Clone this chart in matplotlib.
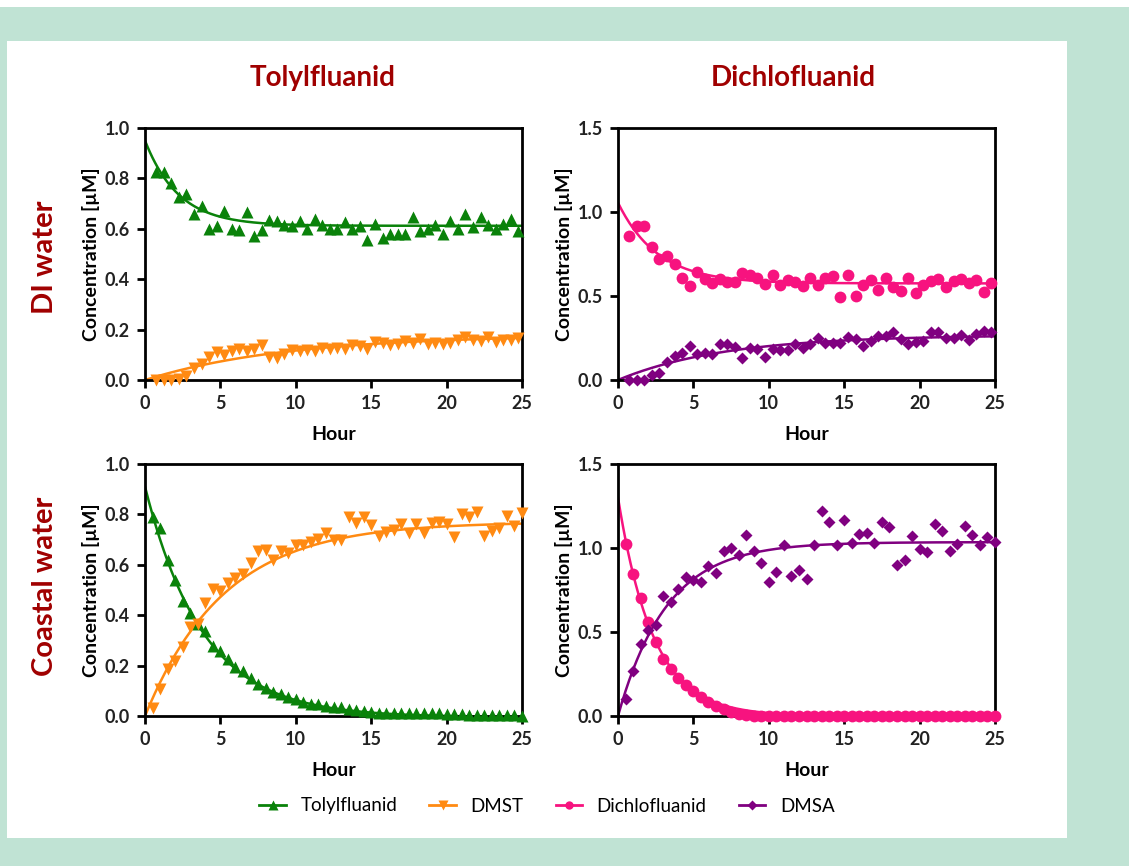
import numpy as np
import matplotlib
import matplotlib.pyplot as plt
from matplotlib.lines import Line2D
from matplotlib.patches import Rectangle

matplotlib.use('Agg')
plt.rcParams['font.family'] = ['Lato', 'DejaVu Sans']

# sampling times (hours)
hours_di = [0.75, 1.25, 1.75, 2.25, 2.75, 3.25, 3.75, 4.25, 4.75, 5.25,
            5.75, 6.25, 6.75, 7.25, 7.75, 8.25, 8.75, 9.25, 9.75, 10.25,
            10.75, 11.25, 11.75, 12.25, 12.75, 13.25, 13.75, 14.25, 14.75, 15.25,
            15.75, 16.25, 16.75, 17.25, 17.75, 18.25, 18.75, 19.25, 19.75, 20.25,
            20.75, 21.25, 21.75, 22.25, 22.75, 23.25, 23.75, 24.25, 24.75]
hours_coast = [0.5, 1.0, 1.5, 2.0, 2.5, 3.0, 3.5, 4.0, 4.5, 5.0,
               5.5, 6.0, 6.5, 7.0, 7.5, 8.0, 8.5, 9.0, 9.5, 10.0,
               10.5, 11.0, 11.5, 12.0, 12.5, 13.0, 13.5, 14.0, 14.5, 15.0,
               15.5, 16.0, 16.5, 17.0, 17.5, 18.0, 18.5, 19.0, 19.5, 20.0,
               20.5, 21.0, 21.5, 22.0, 22.5, 23.0, 23.5, 24.0, 24.5, 25.0]

# DI water
tolyl_di = [0.825, 0.825, 0.78, 0.726, 0.74, 0.66, 0.69, 0.60, 0.61, 0.67,
            0.60, 0.595, 0.665, 0.57, 0.595, 0.635, 0.63, 0.617, 0.61, 0.63,
            0.60, 0.64, 0.615, 0.60, 0.60, 0.628, 0.60, 0.61, 0.555, 0.62,
            0.565, 0.578, 0.578, 0.578, 0.647, 0.59, 0.60, 0.617, 0.58, 0.63,
            0.60, 0.657, 0.607, 0.647, 0.615, 0.60, 0.62, 0.64, 0.59]
dmst_di = [0.0, 0.0, 0.0, 0.005, 0.015, 0.046, 0.064, 0.09, 0.112, 0.099,
           0.114, 0.124, 0.117, 0.124, 0.138, 0.09, 0.088, 0.104, 0.121, 0.114,
           0.121, 0.117, 0.128, 0.125, 0.128, 0.125, 0.138, 0.134, 0.125, 0.151,
           0.147, 0.138, 0.143, 0.154, 0.147, 0.164, 0.143, 0.147, 0.143, 0.147,
           0.16, 0.17, 0.16, 0.154, 0.17, 0.151, 0.157, 0.16, 0.167]
dichlo_di = [0.855, 0.914, 0.914, 0.79, 0.72, 0.74, 0.69, 0.607, 0.562, 0.641,
             0.60, 0.576, 0.60, 0.582, 0.586, 0.635, 0.627, 0.607, 0.572, 0.627,
             0.568, 0.596, 0.582, 0.558, 0.607, 0.568, 0.607, 0.62, 0.492, 0.627,
             0.502, 0.568, 0.596, 0.536, 0.607, 0.556, 0.532, 0.607, 0.516, 0.568,
             0.592, 0.60, 0.552, 0.592, 0.60, 0.576, 0.596, 0.522, 0.576]
dmsa_di = [0.0, 0.0, 0.0, 0.03, 0.044, 0.11, 0.143, 0.163, 0.203, 0.157,
           0.163, 0.157, 0.213, 0.213, 0.197, 0.13, 0.193, 0.183, 0.137, 0.183,
           0.177, 0.177, 0.213, 0.193, 0.213, 0.249, 0.223, 0.223, 0.223, 0.257,
           0.243, 0.203, 0.233, 0.263, 0.263, 0.283, 0.243, 0.217, 0.229, 0.233,
           0.283, 0.283, 0.249, 0.249, 0.269, 0.237, 0.273, 0.289, 0.283]

# Coastal water
tolyl_coast = [0.788, 0.748, 0.62, 0.54, 0.457, 0.41, 0.364, 0.338, 0.278, 0.258,
               0.225, 0.196, 0.179, 0.152, 0.126, 0.113, 0.095, 0.086, 0.077, 0.066,
               0.056, 0.046, 0.046, 0.040, 0.037, 0.037, 0.029, 0.024, 0.020, 0.016,
               0.013, 0.013, 0.013, 0.013, 0.011, 0.011, 0.011, 0.011, 0.011, 0.007,
               0.007, 0.007, 0.003, 0.003, 0.003, 0.003, 0.003, 0.003, 0.002, 0.0]
dmst_coast = [0.033, 0.106, 0.185, 0.219, 0.275, 0.355, 0.364, 0.45, 0.503, 0.497,
              0.527, 0.546, 0.563, 0.607, 0.656, 0.66, 0.62, 0.656, 0.646, 0.678,
              0.678, 0.691, 0.702, 0.728, 0.70, 0.70, 0.788, 0.766, 0.788, 0.758,
              0.715, 0.731, 0.739, 0.762, 0.726, 0.762, 0.728, 0.766, 0.768, 0.762,
              0.709, 0.801, 0.788, 0.811, 0.715, 0.735, 0.748, 0.795, 0.752, 0.805]
dichlo_coast = [1.024, 0.844, 0.704, 0.56, 0.44, 0.34, 0.28, 0.224, 0.184, 0.15,
                0.116, 0.084, 0.06, 0.04, 0.024, 0.01, 0.004, 0.0, 0.0, 0.0,
                0.0, 0.0, 0.0, 0.0, 0.0, 0.0, 0.0, 0.0, 0.0, 0.0,
                0.0, 0.0, 0.0, 0.0, 0.0, 0.0, 0.0, 0.0, 0.0, 0.0,
                0.0, 0.0, 0.0, 0.0, 0.0, 0.0, 0.0, 0.0, 0.0, 0.0]
dmsa_coast = [0.104, 0.27, 0.43, 0.51, 0.544, 0.716, 0.68, 0.756, 0.83, 0.81,
              0.796, 0.89, 0.85, 0.98, 1.0, 0.96, 1.08, 0.98, 0.91, 0.80,
              0.856, 1.02, 0.836, 0.87, 0.816, 1.016, 1.22, 1.156, 1.016, 1.164,
              1.03, 1.084, 1.09, 1.03, 1.156, 1.124, 0.896, 0.93, 1.07, 0.996,
              0.976, 1.14, 1.104, 0.984, 1.024, 1.13, 1.076, 1.016, 1.064, 1.036]

# fitted curve parameters: (start, plateau, rate k)
fit_tolyl_di = (0.95, 0.612, 0.45)
fit_dmst_di = (0.0, 0.18, 0.105)
fit_dichlo_di = (1.055, 0.575, 0.38)
fit_dmsa_di = (0.0, 0.268, 0.14)
fit_tolyl_coast = (0.91, -0.005, 0.26)
fit_dmst_coast = (0.0, 0.77, 0.19)
fit_dichlo_coast = (1.30, 0.0, 0.43)
fit_dmsa_coast = (0.0, 1.035, 0.31)

GREEN = '#0a820a'
ORANGE = '#ff8a12'
PINK = '#f7137f'
PURPLE = '#800080'
DARKRED = '#a00000'


def fit_curve(params, t):
    y0, plateau, k = params
    return plateau + (y0 - plateau) * np.exp(-k * t)


W, H = 1129, 866
fig = plt.figure(figsize=(W / 100, H / 100), dpi=100, facecolor='#c0e3d4')
fig.patches.append(Rectangle((7 / W, (H - 838) / H), (1067 - 7) / W, (838 - 41) / H,
                             transform=fig.transFigure, facecolor='white',
                             edgecolor='none', zorder=-5))
fig.patches.append(Rectangle((0, (H - 7) / H), 1, 7 / H, transform=fig.transFigure,
                             facecolor='white', edgecolor='none', zorder=-5))


def make_axes(x0, y0, x1, y1):
    ax = fig.add_axes([x0 / W, (H - y1) / H, (x1 - x0) / W, (y1 - y0) / H])
    ax.set_zorder(2)
    return ax


t_fine = np.linspace(0, 25, 300)

panels = [
    (make_axes(145, 128, 522, 380), hours_di, tolyl_di, fit_tolyl_di, dmst_di, fit_dmst_di,
     GREEN, '^', 8.5, ORANGE, 'v', 8.5, 1.0, 0.2),
    (make_axes(618, 128, 995, 380), hours_di, dichlo_di, fit_dichlo_di, dmsa_di, fit_dmsa_di,
     PINK, 'o', 8.5, PURPLE, 'D', 6.5, 1.5, 0.5),
    (make_axes(145, 464, 522, 716), hours_coast, tolyl_coast, fit_tolyl_coast, dmst_coast,
     fit_dmst_coast, GREEN, '^', 8.5, ORANGE, 'v', 8.5, 1.0, 0.2),
    (make_axes(618, 464, 995, 716), hours_coast, dichlo_coast, fit_dichlo_coast, dmsa_coast,
     fit_dmsa_coast, PINK, 'o', 8.5, PURPLE, 'D', 6.5, 1.5, 0.5),
]

for (ax, hrs, a_vals, a_fit, b_vals, b_fit, ca, ma, sa, cb, mb, sb, ymax, ystep) in panels:
    ax.plot(t_fine, fit_curve(a_fit, t_fine), color=ca, lw=1.8, zorder=2)
    ax.plot(t_fine, fit_curve(b_fit, t_fine), color=cb, lw=1.8, zorder=2)
    ax.plot(hrs, a_vals, ls='none', marker=ma, ms=sa, color=ca, mec='none', zorder=3, clip_on=False)
    ax.plot(hrs, b_vals, ls='none', marker=mb, ms=sb, color=cb, mec='none', zorder=3, clip_on=False)
    ax.set_xlim(0, 25)
    ax.set_ylim(0, ymax)
    ax.set_xticks([0, 5, 10, 15, 20, 25])
    ax.set_yticks(np.arange(0, ymax + 0.001, ystep))
    ax.yaxis.set_major_formatter(matplotlib.ticker.FormatStrFormatter('%.1f'))
    for s in ax.spines.values():
        s.set_linewidth(2)
    ax.tick_params(direction='out', length=6, width=2, labelsize=13, pad=5)
    for lab in ax.get_xticklabels() + ax.get_yticklabels():
        lab.set_fontweight('bold')
        lab.set_color('#222222')
    ax.set_xlabel('Hour', fontsize=14, fontweight='bold', labelpad=10)
    ax.set_ylabel('Concentration [µM]', fontsize=14, fontweight='bold', labelpad=3)

fig.text(323 / W, 1 - 78 / H, 'Tolylfluanid', ha='center', va='center',
         fontsize=20, fontweight='bold', color=DARKRED)
fig.text(793 / W, 1 - 78 / H, 'Dichlofluanid', ha='center', va='center',
         fontsize=20, fontweight='bold', color=DARKRED)
fig.text(45 / W, 1 - 257 / H, 'DI water', ha='center', va='center', rotation=90,
         fontsize=21, fontweight='bold', color=DARKRED)
fig.text(45 / W, 1 - 586 / H, 'Coastal water', ha='center', va='center', rotation=90,
         fontsize=21, fontweight='bold', color=DARKRED)

handles = [
    Line2D([], [], color=GREEN, marker='^', ms=7, lw=2, mec='none'),
    Line2D([], [], color=ORANGE, marker='v', ms=7, lw=2, mec='none'),
    Line2D([], [], color=PINK, marker='o', ms=6, lw=2, mec='none'),
    Line2D([], [], color=PURPLE, marker='D', ms=5, lw=2, mec='none'),
]
fig.legend(handles, ['Tolylfluanid', 'DMST', 'Dichlofluanid', 'DMSA'],
           loc='center', bbox_to_anchor=(547 / W, 1 - 806 / H), ncol=4,
           frameon=False, fontsize=13.5, handlelength=1.4, columnspacing=1.7,
           handletextpad=0.8)

fig.savefig('out.png', dpi=100, facecolor=fig.get_facecolor())
